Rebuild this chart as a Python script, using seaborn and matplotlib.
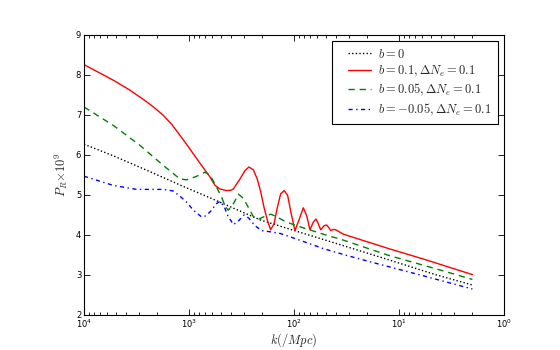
import numpy as np
import pandas as pd
import matplotlib
matplotlib.use('Agg')
import matplotlib.pyplot as plt
import seaborn as sns

# values (k in 1/Mpc, P_R x 1e9)
k_b0 = [10000, 5260, 2529, 1219, 631, 327, 211, 102, 36.5, 12.2, 4.38, 2.0]
p_b0 = [6.27, 5.98, 5.62, 5.25, 4.93, 4.60, 4.38, 4.12, 3.76, 3.37, 3.00, 2.75]

k_b01 = [10000, 5260, 3648, 2530, 2109, 1758, 1452, 1219, 1023, 845, 736, 631, 565,
         507, 438, 398, 378, 327, 293, 269,
         244, 224, 207, 193, 179, 167, 155, 144, 134, 124, 115, 107, 98, 89,
         81.5, 75.7, 70.5, 65.5, 61.7, 58.7, 55.7, 51.8, 48.9, 46.5, 44.7,
         42.3, 40.1, 36.5, 33.9, 12.2, 5.87, 2.0]
p_b01 = [8.26, 7.87, 7.62, 7.33, 7.17, 6.99, 6.76, 6.49, 6.22, 5.91, 5.69, 5.45, 5.24,
         5.15, 5.11, 5.12, 5.15, 5.40, 5.61, 5.70,
         5.63, 5.40, 5.07, 4.69, 4.36, 4.13, 4.28, 4.69, 5.03, 5.11, 4.99, 4.57, 4.11, 4.40,
         4.68, 4.48, 4.13, 4.32, 4.40, 4.28, 4.13, 4.23, 4.25, 4.18, 4.11,
         4.14, 4.13, 4.07, 4.02, 3.65, 3.40, 3.01]

k_b005 = [10000, 5260, 2930, 1758, 1219, 1052, 858, 704, 631, 545, 488, 454, 422,
          378, 338, 304, 272, 244, 215, 189, 166, 145, 122, 94.2, 65.5, 47.1,
          36.5, 12.2, 4.38, 2.0]
p_b005 = [7.20, 6.74, 6.24, 5.74, 5.40, 5.38, 5.46, 5.57, 5.50, 5.19, 4.94, 4.72, 4.62,
          4.78, 5.02, 4.92, 4.69, 4.46, 4.40, 4.47, 4.52, 4.45, 4.34, 4.23, 4.10, 3.98,
          3.90, 3.48, 3.15, 2.89]

k_bm005 = [10000, 5260, 3150, 1758, 1413, 1219, 1052, 910, 757, 689, 608, 553, 507,
           464, 426, 378, 341, 299, 269, 235, 203, 169, 136, 105, 70.5, 52.6, 31.5,
           17.6, 5.87, 2.0]
p_bm005 = [5.47, 5.24, 5.14, 5.14, 5.10, 4.97, 4.82, 4.62, 4.45, 4.48, 4.62, 4.78, 4.84,
           4.72, 4.48, 4.26, 4.34, 4.50, 4.42, 4.23, 4.11, 4.08, 4.04, 3.94, 3.78, 3.66, 3.49,
           3.31, 2.98, 2.65]

labels = [r'$b{=}0$', r'$b{=}0.1,\Delta N_e{=}0.1$',
          r'$b{=}0.05,\Delta N_e{=}0.1$', r'$b{=}{-}0.05,\Delta N_e{=}0.1\ \ $']

sns.set_theme(style='ticks')
plt.rcParams.update({
    'font.family': ['DejaVu Sans'],
    'mathtext.fontset': 'cm',
    'axes.edgecolor': 'black',
    'axes.linewidth': 0.8,
    'xtick.direction': 'in',
    'ytick.direction': 'in',
    'xtick.top': True,
    'ytick.right': True,
    'xtick.major.size': 4,
    'ytick.major.size': 4,
    'xtick.minor.size': 2,
    'ytick.minor.size': 2,
    'xtick.labelsize': 6,
    'ytick.labelsize': 6,
})

fig, ax = plt.subplots(figsize=(5.6, 3.5), dpi=100)
fig.subplots_adjust(left=0.15, right=0.9, bottom=0.1, top=0.9)

series = [
    (k_b0, p_b0, 'black', (0, (1, 1.6))),
    (k_b01, p_b01, '#ff0000', '-'),
    (k_b005, p_b005, '#008000', (0, (4.5, 3.5))),
    (k_bm005, p_bm005, '#0000ff', (0, (3, 2.5, 1, 2.5))),
]
for (ks, ps, color, ls), label in zip(series, labels):
    df = pd.DataFrame({'k': ks, 'P': ps})
    sns.lineplot(data=df, x='k', y='P', color=color, linestyle=ls, linewidth=1,
                 label=label, ax=ax, estimator=None, sort=False)

ax.set_xscale('log')
ax.set_xlim(1e4, 1)
ax.set_ylim(2, 9)
ax.set_yticks(range(2, 10))
ax.tick_params(which='both', width=0.6, colors='black', pad=2)
ax.set_xlabel(r'$k(/Mpc)$', fontsize=9, labelpad=0.5)
ax.set_ylabel(r'$P_R{\times}10^9$', fontsize=9, labelpad=4)

leg = ax.legend(loc='upper right', fontsize=9, fancybox=False, framealpha=1,
                edgecolor='black', handlelength=2.6, handletextpad=0.55,
                borderpad=0.5, labelspacing=0.25, borderaxespad=0.5)
leg.get_frame().set_linewidth(0.8)
# old-style legend: extra room left of the handle lines
for line in leg.get_lines():
    xd = line.get_xdata()
    line.set_xdata(np.linspace(xd[0] + 7, xd[-1], len(xd)))

fig.savefig('out.png', dpi=100, facecolor='white')
